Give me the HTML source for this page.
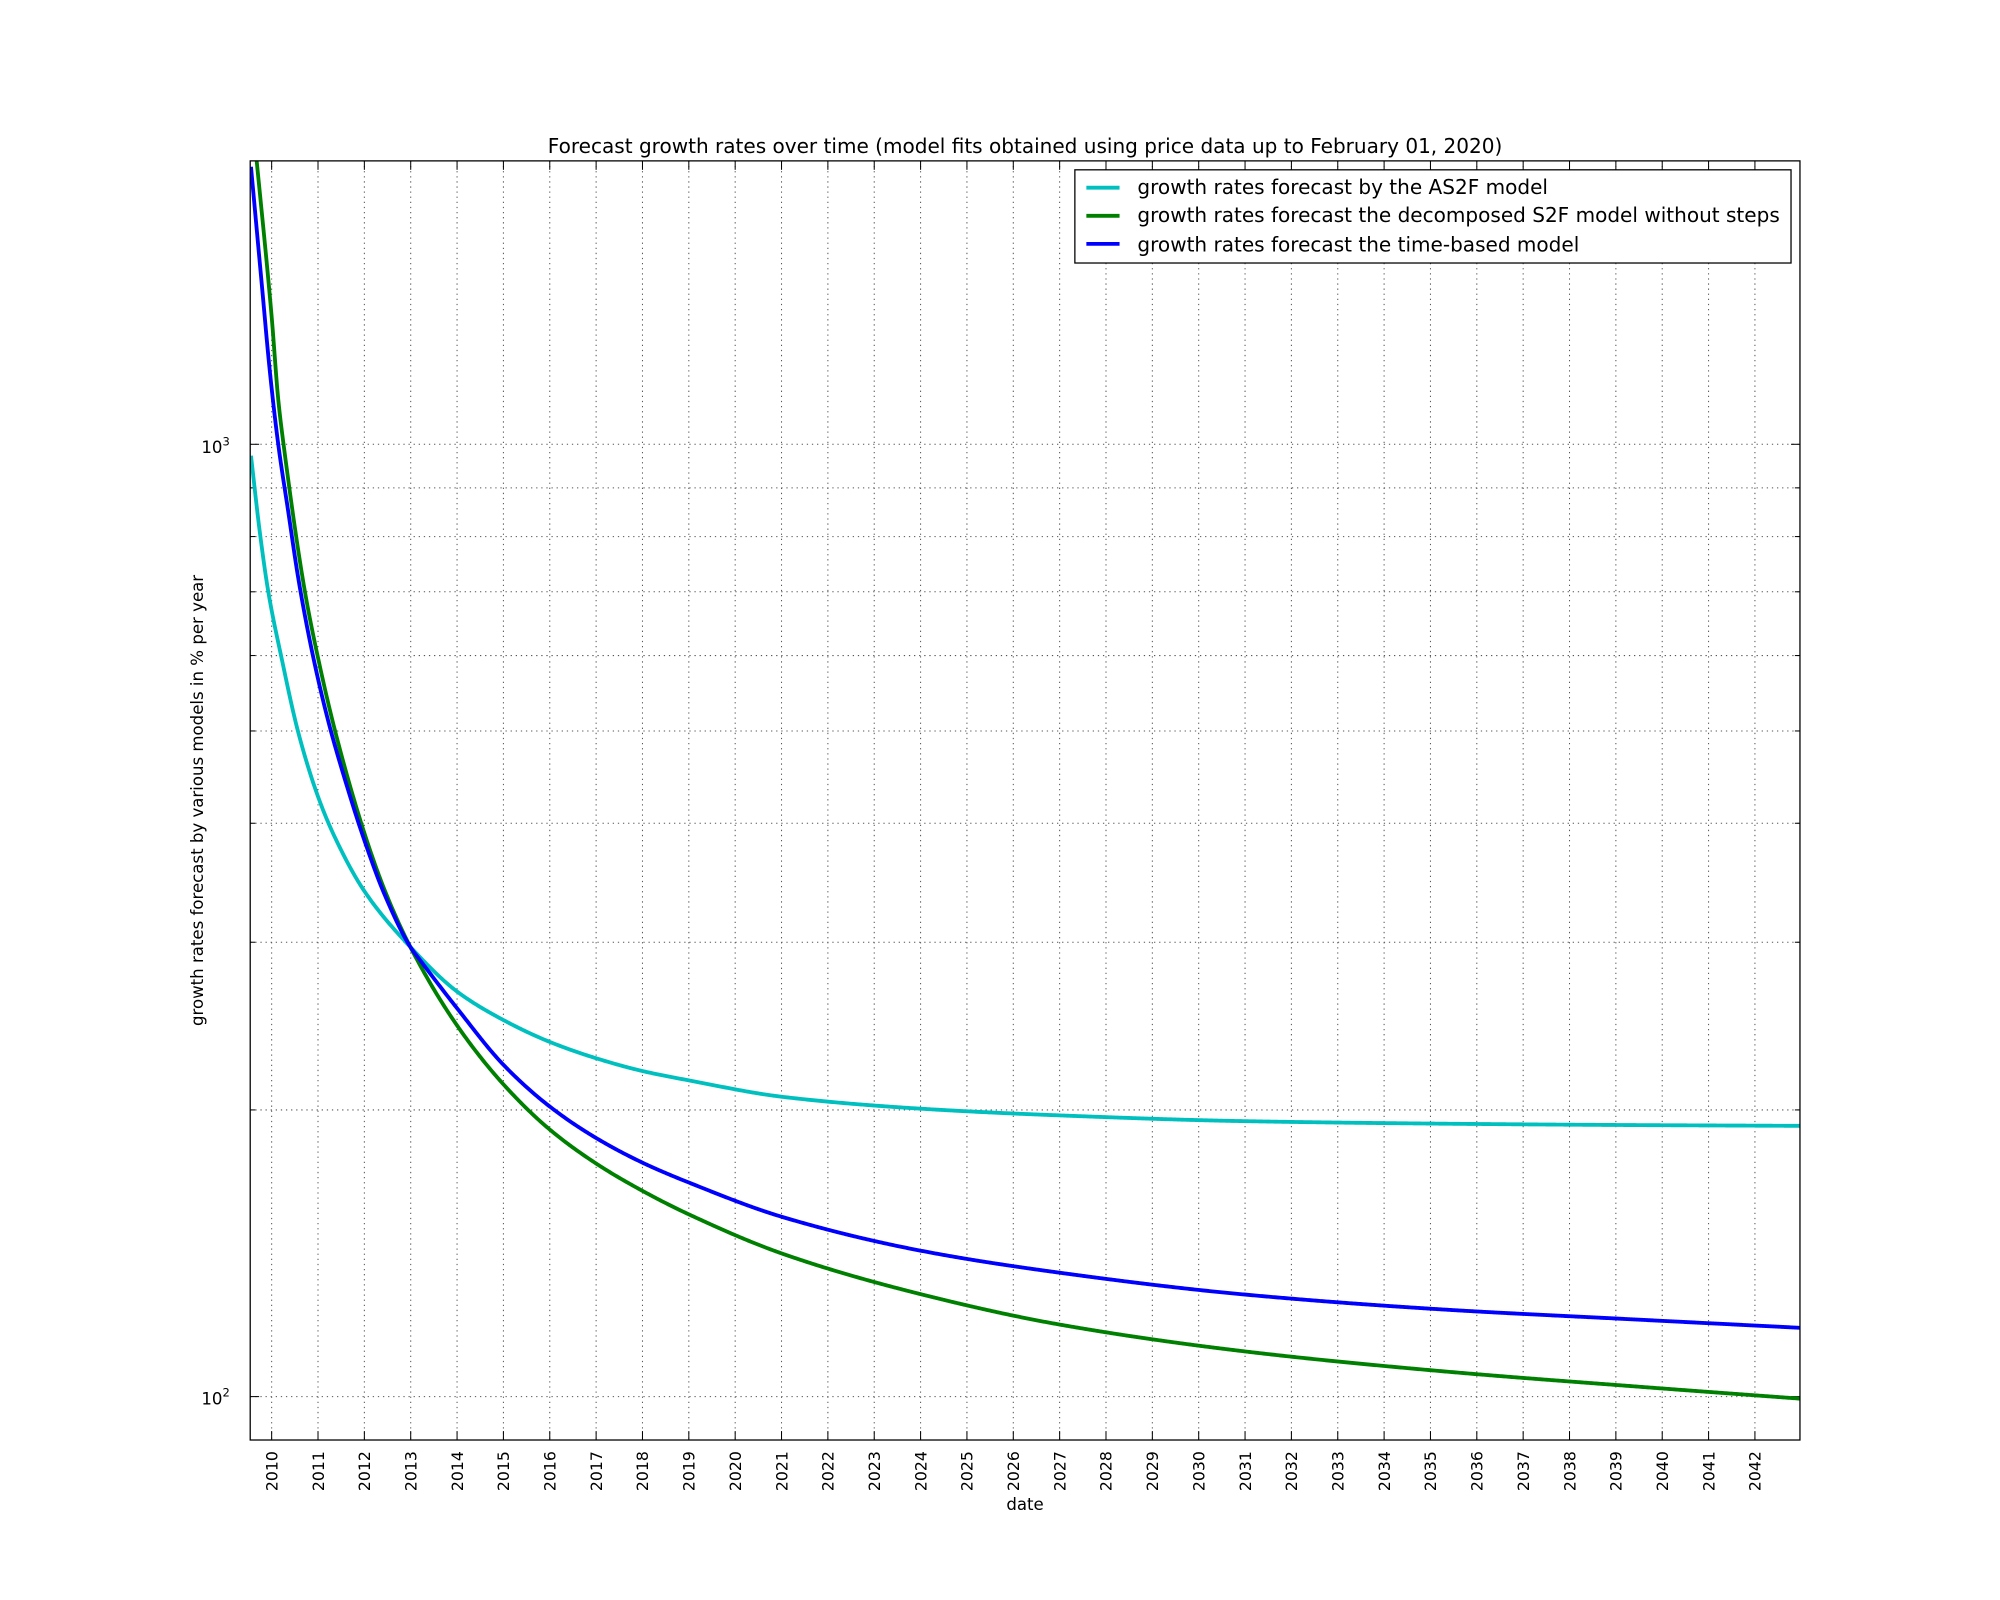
<!DOCTYPE html>
<html><head><meta charset="utf-8"><style>
html,body{margin:0;padding:0;background:#fff;}
svg{display:block;font-family:"DejaVu Sans","Liberation Sans",sans-serif;}
</style></head><body>
<svg id="s" width="2000" height="1600" viewBox="0 0 1566.7 1253.3" xmlns="http://www.w3.org/2000/svg">
<rect width="1566.7" height="1253.3" fill="#fff"/>
<defs><clipPath id="c"><rect x="196" y="126" width="1214" height="1002"/></clipPath></defs>
<g id="grid" stroke="#555" stroke-width="0.8" stroke-dasharray="1,3"></g>
<g id="ticks" stroke="#000" stroke-width="0.8"></g>
<g clip-path="url(#c)" fill="none" stroke-width="3" stroke-linejoin="round">
<path id="cy" stroke="#00bfbf"/>
<path id="gr" stroke="#008000"/>
<path id="bl" stroke="#0000ff"/>
</g>
<rect x="196" y="126" width="1214" height="1002" fill="none" stroke="#000" stroke-width="1"/>
<g id="xl" font-size="12.3" fill="#000"></g>
<text x="180" y="355" font-size="13" text-anchor="end">10<tspan dy="-6" font-size="9">3</tspan></text>
<text x="180" y="1100" font-size="13" text-anchor="end">10<tspan dy="-6" font-size="9">2</tspan></text>
<text x="803" y="120" font-size="15.7" text-anchor="middle">Forecast growth rates over time (model fits obtained using price data up to February 01, 2020)</text>
<text x="803" y="1183" font-size="13" text-anchor="middle">date</text>
<text transform="translate(159,627) rotate(-90)" font-size="13" text-anchor="middle">growth rates forecast by various models in % per year</text>
<rect x="842" y="133" width="561" height="73" fill="#fff" stroke="#000" stroke-width="1"/>
<g stroke-width="3"><line x1="851" y1="147" x2="877" y2="147" stroke="#00bfbf"/><line x1="851" y1="169" x2="877" y2="169" stroke="#008000"/><line x1="851" y1="191" x2="877" y2="191" stroke="#0000ff"/></g>
<g font-size="15.7" fill="#000">
<text x="891" y="152">growth rates forecast by the AS2F model</text>
<text x="891" y="174">growth rates forecast the decomposed S2F model without steps</text>
<text x="891" y="197">growth rates forecast the time-based model</text>
</g>
</svg>
<script>
var NS="http://www.w3.org/2000/svg";
function el(p,t,a,txt){var e=document.createElementNS(NS,t);for(var k in a)e.setAttribute(k,a[k]);if(txt)e.textContent=txt;document.getElementById(p).appendChild(e);return e;}
function yv(v){return 1094-746*Math.log10(v/100);}
for(var y=2010;y<=2042;y++){var x=212.8+(y-2010)*36.31;
 el("grid","line",{x1:x,y1:126,x2:x,y2:1128});
 el("ticks","line",{x1:x,y1:1128,x2:x,y2:1121});el("ticks","line",{x1:x,y1:126,x2:x,y2:133});
 el("xl","text",{transform:"translate("+(x+4.5)+",1168) rotate(-90)"},""+y);}
var vals=[100,200,300,400,500,600,700,800,900,1000,2000];
vals.forEach(function(v){var yy=yv(v);if(yy<126)return;
 el("grid","line",{x1:196,y1:yy,x2:1410,y2:yy});
 var L=(v==100||v==1000)?7:4;
 el("ticks","line",{x1:196,y1:yy,x2:196+L,y2:yy});el("ticks","line",{x1:1410,y1:yy,x2:1410-L,y2:yy});});
function mono(p){
 var n=p.length,x=p.map(function(a){return a[0];}),y=p.map(function(a){return a[1];}),d=[],m=[];
 for(var i=0;i<n-1;i++)d.push((y[i+1]-y[i])/(x[i+1]-x[i]));
 m[0]=d[0];m[n-1]=d[n-2];
 for(i=1;i<n-1;i++){if(d[i-1]*d[i]<=0)m[i]=0;else{var w1=2*(x[i+1]-x[i])+(x[i]-x[i-1]),w2=(x[i+1]-x[i])+2*(x[i]-x[i-1]);m[i]=(w1+w2)/(w1/d[i-1]+w2/d[i]);}}
 var s="";
 for(i=0;i<n-1;i++){var h=x[i+1]-x[i];
  for(var k=0;k<Math.ceil(h);k++){var t=k/Math.ceil(h),t2=t*t,t3=t2*t;
   var yy=(2*t3-3*t2+1)*y[i]+(t3-2*t2+t)*h*m[i]+(-2*t3+3*t2)*y[i+1]+(t3-t2)*h*m[i+1];
   s+=(s?" L":"M")+(x[i]+t*h).toFixed(2)+","+yy.toFixed(2);}}
 s+=" L"+x[n-1]+","+y[n-1];return s;}
var cy=[[196.6,357],[203.7,418.2],[210.2,463.7],[220.7,516.1],[233.7,573.9],[249.3,624.5],[262.4,656],[285.4,698],[321.4,741.7],[358.2,776.8],[394.3,799],[430.3,816],[467.1,829],[503.4,839],[539.1,846.2],[613.9,859.3],[721.8,868.5],[829.7,873.7],[973.5,878.2],[1129.4,880.2],[1279.2,881.3],[1410,881.9]];
var gr=[[199.5,110],[201,125.3],[212.8,248],[218,313.3],[222.7,352.5],[238.9,463.7],[249.3,516.1],[262.4,572.2],[285.4,652.5],[301.6,698],[321.4,741.7],[358.2,803.5],[394.3,849.3],[430.3,884.5],[467.1,911.5],[503.4,932.9],[539.1,951],[613.9,982.4],[721.8,1013.9],[829.7,1037.5],[973.5,1058.4],[1129.4,1074.1],[1279.2,1085.9],[1410,1095.6]];
var bl=[[196.6,130.6],[205,222],[211.5,292],[218,348.3],[225.8,400.8],[233.7,453.2],[244.2,509.2],[257.2,565.1],[270.2,610.6],[285.9,659.6],[301.6,701.5],[321.4,741.7],[329,752],[358.2,790],[394.3,834],[430.3,866.5],[467.1,891.5],[503.4,910.8],[539.1,926.1],[613.9,953.6],[721.8,979.8],[829.7,996.9],[973.5,1013.9],[1129.4,1025.7],[1279.2,1033.5],[1410,1040.1]];
document.getElementById("cy").setAttribute("d",mono(cy));
document.getElementById("gr").setAttribute("d",mono(gr));
document.getElementById("bl").setAttribute("d",mono(bl));
</script>
</body></html>
